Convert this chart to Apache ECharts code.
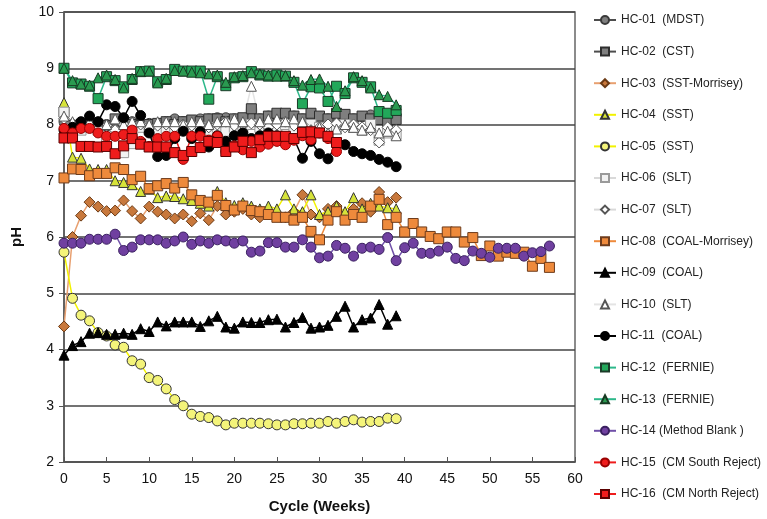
<!DOCTYPE html>
<html>
<head>
<meta charset="utf-8">
<script src="https://cdn.jsdelivr.net/npm/echarts@6/dist/echarts.min.js"></script>
<style>
  html, body { margin: 0; padding: 0; background: #fff; }
  #chart { width: 767px; height: 519px; }
</style>
</head>
<body>
<div id="chart"></div>
<script>
// pH by week (index = week number)
const hc01 = [8.05, 8.0, 8.0, 8.02, 8.02, 8.0, 8.05, 8.08, 8.05, 8.0, 8.02, 8.0, 8.05, 8.1, 8.05, 8.05, 8.1, 8.1, 8.12, 8.12, 8.1, 8.1, 8.12, 8.1, 8.15, 8.1, 8.12, 8.15, 8.1, 8.1, 8.09, 8.1, 8.12, 8.05, 8.1, 8.14, 8.17, 8.12, 8.15, 8.17];
const hc02 = [8.22, 7.98, 8.0, 7.97, 8.0, 7.98, 8.1, 8.05, 8.0, 7.98, 8.0, 8.02, 8.05, 8.0, 8.05, 8.08, 8.05, 8.1, 8.1, 8.05, 8.1, 8.12, 8.28, 8.1, 8.15, 8.2, 8.2, 8.15, 8.1, 8.2, 8.15, 8.1, 8.2, 8.18, 8.1, 8.15, 8.1, 8.09, 8.05, 8.09];
const hc03 = [4.41, 6.0, 6.38, 6.62, 6.54, 6.46, 6.47, 6.65, 6.46, 6.33, 6.54, 6.45, 6.4, 6.33, 6.4, 6.28, 6.42, 6.3, 6.55, 6.4, 6.45, 6.5, 6.4, 6.35, 6.4, 6.4, 6.35, 6.45, 6.75, 6.4, 6.35, 6.5, 6.55, 6.4, 6.5, 6.6, 6.45, 6.8, 6.62, 6.7];
const hc04 = [8.39, 7.42, 7.4, 7.21, 7.2, 7.2, 7.0, 6.97, 6.93, 6.81, 6.85, 6.7, 6.73, 6.72, 6.68, 6.65, 6.6, 6.55, 6.81, 6.61, 6.56, 6.61, 6.55, 6.5, 6.55, 6.5, 6.75, 6.5, 6.45, 6.75, 6.4, 6.45, 6.55, 6.45, 6.7, 6.5, 6.6, 6.55, 6.52, 6.5];
const hc05 = [5.73, 4.91, 4.61, 4.51, 4.3, 4.24, 4.08, 4.04, 3.8, 3.74, 3.5, 3.45, 3.3, 3.11, 3.0, 2.85, 2.81, 2.79, 2.73, 2.66, 2.69, 2.69, 2.69, 2.69, 2.68, 2.66, 2.66, 2.68, 2.68, 2.69, 2.69, 2.72, 2.69, 2.72, 2.75, 2.71, 2.72, 2.72, 2.78, 2.77];
const hc06 = [8.22, 7.95, 7.9, 7.95, 7.9, 7.75, 7.85, 7.5, 7.66, 7.95, 7.9, 7.85, 7.88, 7.95, 7.9, 7.95, 7.95, 7.9, 7.95, 7.88, 7.95, 7.9, 8.0, 7.95, 7.95, 7.9, 8.0, 7.9, 7.95, 8.0, 7.95, 7.9, 7.95, 8.0, 7.95, 7.9, 8.0, 7.72, 7.85, 7.82];
const hc07 = [8.1, 8.0, 7.95, 8.0, 7.95, 7.98, 7.9, 8.0, 7.95, 8.0, 7.95, 7.98, 8.0, 7.95, 8.0, 7.98, 8.0, 7.95, 8.0, 8.05, 7.98, 8.0, 8.02, 8.0, 7.95, 8.0, 8.05, 7.98, 8.0, 7.9, 7.95, 8.0, 8.02, 7.95, 8.0, 7.95, 7.9, 7.68, 7.95, 7.9];
const hc08 = [7.05, 7.21, 7.2, 7.09, 7.13, 7.13, 7.23, 7.2, 7.02, 7.08, 6.86, 6.91, 6.95, 6.87, 6.97, 6.75, 6.65, 6.62, 6.74, 6.56, 6.48, 6.55, 6.47, 6.45, 6.4, 6.35, 6.35, 6.3, 6.35, 6.1, 5.95, 6.3, 6.45, 6.3, 6.4, 6.35, 6.55, 6.67, 6.22, 6.35, 6.09, 6.24, 6.09, 6.01, 5.97, 6.09, 6.09, 5.91, 5.99, 5.67, 5.84, 5.66, 5.73, 5.71, 5.73, 5.48, 5.62, 5.46];
const hc09 = [3.9, 4.07, 4.14, 4.29, 4.3, 4.27, 4.27, 4.29, 4.27, 4.37, 4.32, 4.49, 4.42, 4.49, 4.49, 4.49, 4.41, 4.51, 4.59, 4.4, 4.38, 4.49, 4.48, 4.48, 4.53, 4.54, 4.4, 4.48, 4.57, 4.38, 4.4, 4.43, 4.59, 4.77, 4.4, 4.53, 4.56, 4.8, 4.45, 4.6];
const hc10 = [8.15, 8.05, 8.0, 8.05, 8.05, 8.0, 8.1, 8.0, 8.05, 8.05, 8.0, 8.05, 8.05, 8.05, 8.0, 8.05, 8.05, 8.0, 8.05, 8.05, 8.1, 8.05, 8.68, 8.05, 8.1, 8.1, 8.05, 8.1, 8.05, 7.9, 7.95, 7.85, 7.92, 8.0, 7.95, 7.9, 7.95, 7.85, 7.88, 7.8];
const hc11 = [7.9, 7.95, 8.05, 8.15, 8.05, 8.35, 8.32, 8.12, 8.41, 8.16, 7.85, 7.43, 7.45, 7.75, 7.88, 7.75, 7.87, 7.6, 7.8, 7.7, 7.8, 7.85, 7.75, 7.8, 7.85, 7.8, 7.75, 7.75, 7.4, 7.7, 7.48, 7.39, 7.65, 7.64, 7.52, 7.48, 7.45, 7.38, 7.33, 7.25];
const hc12 = [9.0, 8.74, 8.72, 8.68, 8.46, 8.85, 8.78, 8.67, 8.8, 8.94, 8.95, 8.76, 8.8, 8.98, 8.95, 8.95, 8.95, 8.45, 8.85, 8.69, 8.83, 8.85, 8.94, 8.88, 8.86, 8.88, 8.86, 8.75, 8.37, 8.67, 8.65, 8.41, 8.68, 8.55, 8.83, 8.75, 8.67, 8.23, 8.2, 8.25];
const hc13 = [9.0, 8.78, 8.72, 8.7, 8.83, 8.88, 8.8, 8.65, 8.82, 8.95, 8.95, 8.74, 8.82, 8.96, 8.95, 8.93, 8.92, 8.9, 8.88, 8.75, 8.85, 8.87, 8.92, 8.9, 8.88, 8.86, 8.87, 8.78, 8.7, 8.8, 8.81, 8.68, 8.32, 8.6, 8.85, 8.78, 8.65, 8.53, 8.5, 8.35];
const hc14 = [5.89, 5.89, 5.89, 5.96, 5.96, 5.96, 6.05, 5.76, 5.82, 5.95, 5.95, 5.95, 5.89, 5.93, 6.0, 5.87, 5.93, 5.89, 5.95, 5.93, 5.89, 5.93, 5.73, 5.75, 5.9, 5.9, 5.82, 5.82, 5.95, 5.82, 5.63, 5.66, 5.85, 5.8, 5.66, 5.8, 5.82, 5.78, 5.99, 5.58, 5.81, 5.89, 5.71, 5.71, 5.75, 5.82, 5.62, 5.58, 5.75, 5.71, 5.64, 5.8, 5.8, 5.8, 5.66, 5.72, 5.74, 5.84];
const hc15 = [7.93, 7.85, 7.93, 7.93, 7.85, 7.79, 7.79, 7.82, 7.9, 7.7, 7.61, 7.75, 7.79, 7.79, 7.38, 7.79, 7.79, 7.72, 7.79, 7.52, 7.62, 7.55, 7.7, 7.6, 7.65, 7.7, 7.64, 7.72, 7.8, 7.73, 7.85, 7.75, 7.52];
const hc16 = [7.76, 7.76, 7.61, 7.61, 7.6, 7.61, 7.48, 7.62, 7.75, 7.65, 7.6, 7.6, 7.6, 7.5, 7.45, 7.52, 7.59, 7.7, 7.68, 7.52, 7.6, 7.7, 7.5, 7.73, 7.79, 7.79, 7.79, 7.75, 7.86, 7.87, 7.85, 7.79, 7.68];

const names = [
  'HC-01  (MDST)', 'HC-02  (CST)', 'HC-03  (SST-Morrisey)', 'HC-04  (SST)',
  'HC-05  (SST)', 'HC-06  (SLT)', 'HC-07  (SLT)', 'HC-08  (COAL-Morrisey)',
  'HC-09  (COAL)', 'HC-10  (SLT)', 'HC-11  (COAL)', 'HC-12  (FERNIE)',
  'HC-13  (FERNIE)', 'HC-14 (Method Blank )', 'HC-15  (CM South Reject)', 'HC-16  (CM North Reject)'
];
const values = [hc01, hc02, hc03, hc04, hc05, hc06, hc07, hc08, hc09, hc10, hc11, hc12, hc13, hc14, hc15, hc16];

// symbol, fill, outline, line colour
const styles = [
  ['circle', '#7f7f7f', '#3a3a3a', '#4d4d4d'],
  ['rect', '#7f7f7f', '#2e2e2e', '#4d4d4d'],
  ['diamond', '#c8783c', '#6b3a14', '#e8a070'],
  ['triangle', '#d6e33a', '#333333', '#f2f200'],
  ['circle', '#f4f47a', '#333333', '#f2f200'],
  ['rect', '#f2f2f2', '#9a9a9a', '#d9d9d9'],
  ['diamond', '#ffffff', '#555555', '#d9d9d9'],
  ['rect', '#ee8a3c', '#6e3c1c', '#ee8a3c'],
  ['triangle', '#000000', '#000000', '#000000'],
  ['triangle', '#ffffff', '#555555', '#e4e4e4'],
  ['circle', '#000000', '#000000', '#000000'],
  ['rect', '#22a85a', '#1b3b28', '#2db88a'],
  ['triangle', '#2a9a50', '#173a22', '#2db88a'],
  ['circle', '#7040a0', '#3a2060', '#7050a8'],
  ['circle', '#ee1c1c', '#9a0000', '#ee1c1c'],
  ['rect', '#ee1c1c', '#5a0000', '#ee1c1c']
];

const series = names.map(function (name, i) {
  const s = styles[i];
  return {
    name: name,
    type: 'line',
    data: values[i].map(function (v, wk) { return [wk, v]; }),
    symbol: s[0],
    symbolSize: s[0] === 'diamond' ? 11 : 10,
    showAllSymbol: true,
    lineStyle: { color: s[3], width: 1.5 },
    itemStyle: { color: s[1], borderColor: s[2], borderWidth: 1 },
    emphasis: { disabled: true },
    animation: false
  };
});

const chart = echarts.init(document.getElementById('chart'));
chart.setOption({
  animation: false,
  textStyle: { fontFamily: 'Liberation Sans, Arial, sans-serif' },
  grid: {
    left: 64, right: 192, top: 12, bottom: 56,
    show: true, borderColor: '#666', borderWidth: 1.5
  },
  legend: {
    orient: 'vertical',
    left: 593,
    top: 13,
    padding: 0,
    itemWidth: 22,
    itemHeight: 10,
    itemGap: 17.6,
    data: names,
    textStyle: { fontSize: 12, color: '#222', lineHeight: 14 }
  },
  xAxis: {
    type: 'value',
    min: 0, max: 60, interval: 5,
    name: 'Cycle (Weeks)',
    nameLocation: 'middle',
    nameGap: 37,
    nameTextStyle: { fontSize: 15, fontWeight: 'bold', color: '#111' },
    axisLine: { lineStyle: { color: '#555', width: 1.5 } },
    axisTick: { inside: true, length: 5, lineStyle: { color: '#555' } },
    axisLabel: { fontSize: 14, color: '#111', margin: 10 },
    splitLine: { show: false }
  },
  yAxis: {
    type: 'value',
    min: 2, max: 10, interval: 1,
    name: 'pH',
    nameLocation: 'middle',
    nameGap: 40,
    nameTextStyle: { fontSize: 15, fontWeight: 'bold', color: '#111' },
    axisLine: { show: true, lineStyle: { color: '#555', width: 1.5 } },
    axisTick: { show: true, length: 5, lineStyle: { color: '#555' } },
    axisLabel: { fontSize: 14, color: '#111', margin: 10 },
    splitLine: { lineStyle: { color: '#444', width: 1.5 } }
  },
  series: series
});
</script>
</body>
</html>
